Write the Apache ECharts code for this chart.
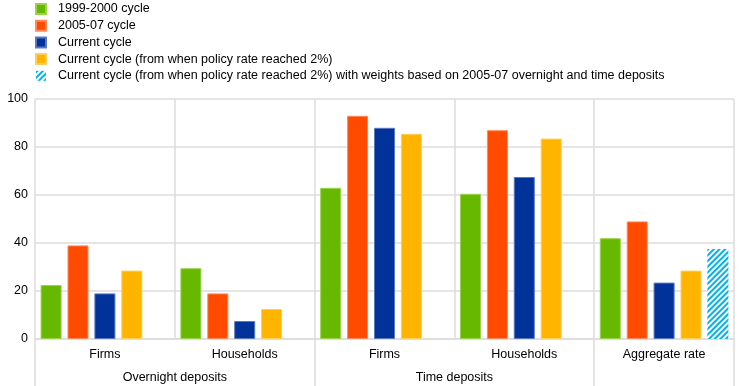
<!DOCTYPE html>
<html>
<head>
<meta charset="utf-8">
<script src="https://cdn.jsdelivr.net/npm/echarts@6/dist/echarts.min.js"></script>
<style>html,body{margin:0;padding:0;background:#fff;}#c{width:744px;height:386px;}</style>
</head>
<body>
<div id="c"></div>
<script>
var categories = ['Firms', 'Households', 'Firms', 'Households', 'Aggregate rate'];
var groupLabels = ['Overnight deposits', 'Time deposits'];
var seriesNames = [
  '1999-2000 cycle',
  '2005-07 cycle',
  'Current cycle',
  'Current cycle (from when policy rate reached 2%)',
  'Current cycle (from when policy rate reached 2%) with weights based on 2005-07 overnight and time deposits'
];
var cycle1999 = [22.5, 29.5, 63, 60.5, 42];
var cycle2005 = [39, 19, 93, 87, 49];
var currentCycle = [19, 7.5, 88, 67.5, 23.5];
var currentFrom2 = [28.5, 12.5, 85.5, 83.5, 28.5];
var currentWeighted = ['-', '-', '-', '-', 37.5];
var yTicks = [0, 20, 40, 60, 80, 100];

var colors = ['#66b800', '#ff4b00', '#003299', '#ffb400'];
var borders = ['#9dd14d', '#ff8a5c', '#5a78bd', '#ffcf5c'];
var gridColor = '#dcdcdc';
var font = 'Liberation Sans, Arial, sans-serif';
var fs = 12.5;

var allData = [cycle1999, cycle2005, currentCycle, currentFrom2, currentWeighted];
var series = allData.map(function (d, i) {
  var s = {
    name: seriesNames[i],
    type: 'bar',
    xAxisIndex: 0,
    data: d,
    barGap: '28%',
    barCategoryGap: '8%',
    itemStyle: {}
  };
  if (i < 4) {
    s.itemStyle.color = colors[i];
    s.itemStyle.borderColor = borders[i];
    s.itemStyle.borderWidth = 1;
  } else {
    s.itemStyle.color = '#ffffff';
    s.itemStyle.decal = {
      symbol: 'rect',
      symbolSize: 1,
      color: '#00b1ea',
      dashArrayX: [1, 0],
      dashArrayY: [2, 2],
      rotation: -Math.PI / 4
    };
  }
  return s;
});

var chart = echarts.init(document.getElementById('c'), null, {renderer: 'canvas'});
chart.setOption({
  animation: false,
  backgroundColor: '#fff',
  textStyle: {fontFamily: font},
  legend: {
    orient: 'vertical',
    left: 35,
    top: 2,
    itemWidth: 10,
    itemHeight: 10,
    itemGap: 2.7,
    icon: 'rect',
    padding: 0,
    textStyle: {fontSize: fs, color: '#000', fontFamily: font, padding: [0, 0, 0, 7], lineHeight: 14},
    data: seriesNames
  },
  grid: {left: 35, right: 10, top: 99, bottom: 47, containLabel: false},
  xAxis: [
    {
      type: 'category',
      data: categories,
      position: 'bottom',
      axisLine: {show: true, lineStyle: {color: gridColor, width: 1.5}},
      axisTick: {show: false},
      splitLine: {show: true, interval: 0, lineStyle: {color: gridColor, width: 1.5}},
      axisLabel: {interval: 0, margin: 9, fontSize: fs, color: '#000', fontFamily: font}
    },
    {
      type: 'category',
      data: categories,
      position: 'bottom',
      axisLine: {show: false},
      axisLabel: {show: false},
      axisTick: {
        show: true,
        length: 47,
        interval: function (idx) { return idx % 2 === 0; },
        lineStyle: {color: gridColor, width: 1.5}
      },
      splitLine: {show: false}
    },
    {
      type: 'value',
      min: 0,
      max: 5,
      interval: 1,
      position: 'bottom',
      axisLine: {show: false},
      axisTick: {show: false},
      splitLine: {show: false},
      axisLabel: {
        show: true,
        margin: 32,
        fontSize: fs,
        color: '#000',
        fontFamily: font,
        showMinLabel: true,
        showMaxLabel: true,
        formatter: function (v) {
          if (v === 1) return groupLabels[0];
          if (v === 3) return groupLabels[1];
          return '';
        }
      }
    }
  ],
  yAxis: {
    type: 'value',
    min: yTicks[0],
    max: yTicks[yTicks.length - 1],
    interval: 20,
    axisLine: {show: false},
    axisTick: {show: false},
    splitLine: {show: true, lineStyle: {color: gridColor, width: 1.5}},
    axisLabel: {margin: 7, fontSize: fs, color: '#000', fontFamily: font}
  },
  series: series
});
</script>
</body>
</html>
